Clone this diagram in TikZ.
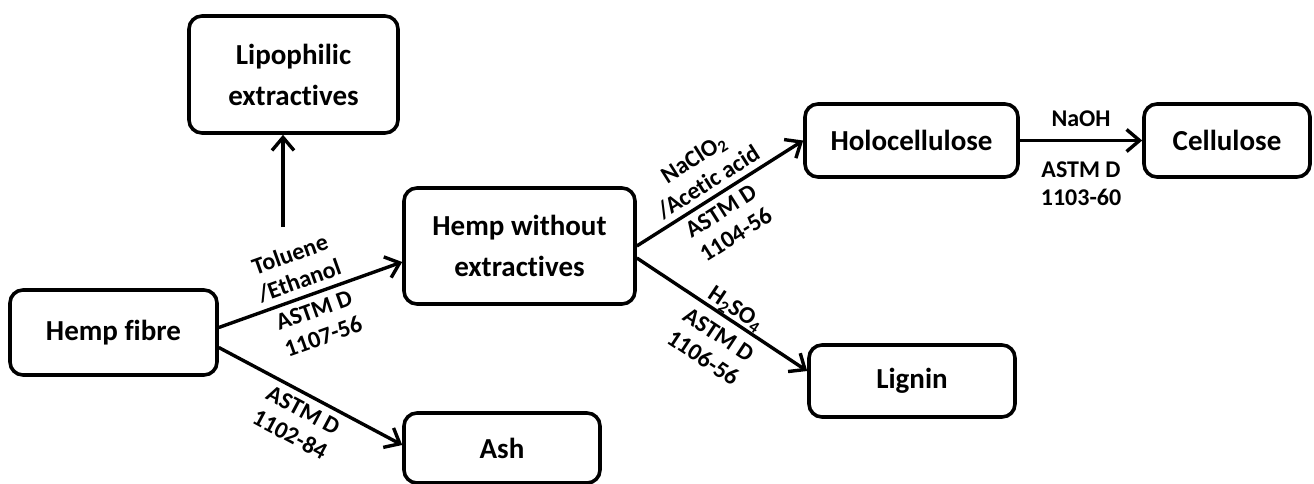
\documentclass[tikz,border=0pt]{standalone}
\usepackage{fontspec}
\setmainfont{Carlito}[Ligatures={NoCommon,NoContextual}]
\usetikzlibrary{arrows.meta,calc}
\newcommand{\nolig}{\kern0pt }
\begin{document}
\begin{tikzpicture}[x=1pt,y=-1pt,
  box/.style={draw, line width=3.6pt, rounded corners=13pt, align=center,
    font=\fontsize{29}{41}\selectfont\bfseries, inner sep=0pt},
  conn/.style={line width=3.4pt, -{Straight Barb[length=13pt,width=22pt,line width=3.4pt]}},
  lbl/.style={font=\fontsize{24}{28}\selectfont\bfseries, align=center, sloped}
]
\useasboundingbox (0,0) rectangle (1314,484);

\node[box, minimum width=209pt, minimum height=117pt] (lipo) at (293.5,74.5) {Lipophilic\\extract\nolig ives};
\node[box, minimum width=207pt, minimum height=85pt] (fibre) at (113.5,332.5) {Hemp f\nolig ibre};
\node[box, minimum width=231pt, minimum height=116pt] (hwe) at (519.5,246) {Hemp without\\extract\nolig ives};
\node[box, minimum width=196pt, minimum height=70pt] (ash) at (502,448) {Ash};
\node[box, minimum width=213pt, minimum height=73pt] (holo) at (911.5,140.5) {Holocellulose};
\node[box, minimum width=166pt, minimum height=73pt] (cell) at (1227,140.5) {Cellulose};
\node[box, minimum width=206pt, minimum height=72pt] (lignin) at (912,381) {Lignin};

\coordinate (lipostart) at (283,227);
\draw[conn] (lipostart) -- (lipo.south -| lipostart);

\draw[conn] ([yshift=5pt]fibre.east) -- ([yshift=-16pt]hwe.west)
  node[lbl, pos=0.47, above, inner sep=6pt] {Toluene\\/Ethanol}
  node[lbl, pos=0.49, below, inner sep=6pt] {ASTM D\\1107-56};

\draw[conn] ([yshift=-15pt]fibre.east) -- ([yshift=3pt]ash.west)
  node[lbl, pos=0.5, below, inner sep=6pt] {ASTM D\\1102-84};

\draw[conn] (hwe.east) -- (holo.west)
  node[lbl, pos=0.48, above, inner sep=5pt] {NaClO\textsubscript{2}\\/Acet\nolig ic acid}
  node[lbl, pos=0.455, below, inner sep=6pt] {ASTM D\\1104-56};

\draw[conn] ([yshift=-12pt]hwe.east) -- ([yshift=10pt]lignin.west)
  node[lbl, pos=0.54, above, inner sep=0pt] {H\textsubscript{2}SO\textsubscript{4}}
  node[lbl, pos=0.54, below, inner sep=9pt] {ASTM D\\1106-56};

\draw[conn] (holo.east) -- (cell.west)
  node[lbl, midway, above, inner sep=12pt] {NaOH}
  node[lbl, midway, below, inner sep=20pt] {ASTM D\\1103-60};
\end{tikzpicture}
\end{document}
